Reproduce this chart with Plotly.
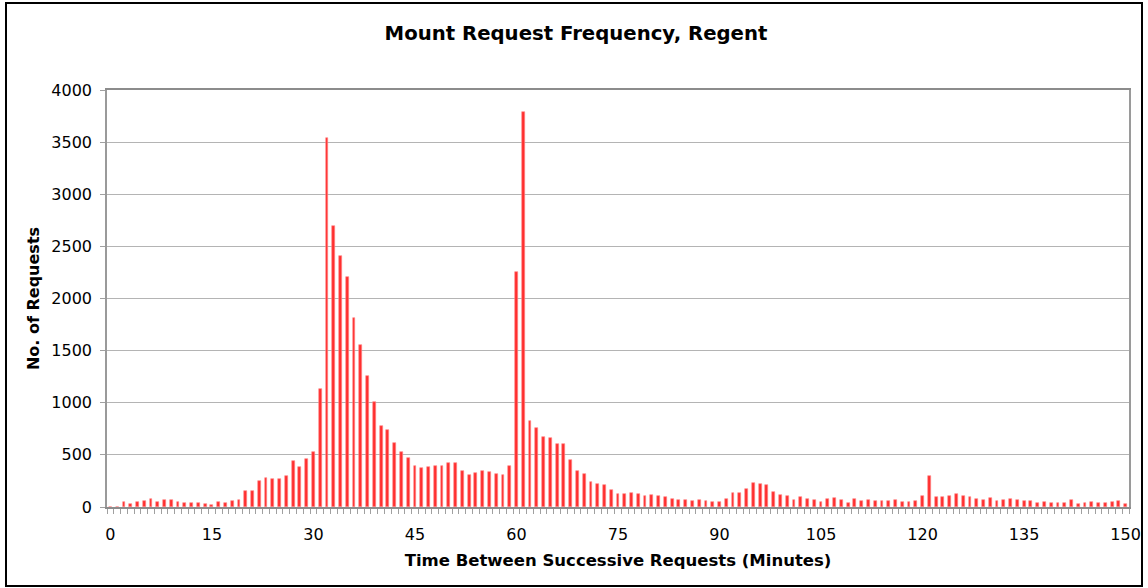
import plotly.graph_objects as go

minutes = list(range(0, 151))
requests = [
    0, 0, 52, 29, 48, 58, 77, 48, 71, 65,          # 0-9
    45, 35, 39, 39, 32, 23, 48, 42, 55, 65,        # 10-19
    152, 155, 252, 281, 271, 268, 297, 442, 381, 463,  # 20-29
    530, 1135, 3536, 2694, 2403, 2211, 1814, 1552, 1258, 1008,  # 30-39
    781, 736, 614, 530, 466, 397, 371, 387, 397, 397,  # 40-49
    426, 423, 342, 310, 329, 345, 339, 313, 303, 394,  # 50-59
    2253, 3786, 821, 758, 676, 658, 602, 609, 455, 342,  # 60-69
    314, 241, 219, 210, 165, 127, 126, 135, 123, 106,  # 70-79
    116, 106, 97, 74, 68, 68, 58, 65, 58, 48,      # 80-89
    48, 77, 135, 135, 174, 235, 219, 213, 148, 116,  # 90-99
    106, 68, 92, 77, 68, 45, 77, 84, 68, 39,       # 100-109
    74, 55, 65, 55, 55, 61, 68, 45, 52, 61,        # 110-119
    103, 294, 94, 97, 106, 123, 110, 94, 74, 68,   # 120-129
    87, 61, 68, 77, 71, 55, 55, 39, 45, 42,        # 130-139
    39, 42, 71, 32, 39, 48, 35, 35, 48, 55,        # 140-149
    32,                                            # 150
]
x_tick_values = list(range(0, 151, 15))
y_tick_values = list(range(0, 4001, 500))

title_text = "Mount Request Frequency, Regent"
x_title = "Time Between Successive Requests (Minutes)"
y_title = "No. of Requests"

FONT = "DejaVu Sans"

fig = go.Figure(
    go.Bar(
        x=minutes,
        y=requests,
        width=0.42,
        marker=dict(color="#ff2f2f", line=dict(color="#ff8a8a", width=0.6)),
    )
)

fig.update_layout(
    width=1148,
    height=588,
    margin=dict(l=107, r=19, t=90, b=81),
    paper_bgcolor="white",
    plot_bgcolor="white",
    showlegend=False,
    font=dict(family=FONT, color="black", size=16),
    title=dict(
        text="<b>" + title_text + "</b>",
        x=576 / 1148,
        xref="container",
        xanchor="center",
        y=1 - 33 / 588,
        yref="container",
        yanchor="middle",
        font=dict(family=FONT, size=19.7, color="black"),
    ),
    bargap=0,
)

fig.update_xaxes(
    range=[-0.5, 150.5],
    tickmode="array",
    tickvals=x_tick_values,
    ticktext=[str(v) for v in x_tick_values],
    ticks="",
    showgrid=False,
    zeroline=False,
    showline=True,
    linecolor="#8c8c8c",
    linewidth=1.5,
    mirror=True,
    automargin=False,
    tickfont=dict(family=FONT, size=16, color="black"),
    ticklabelstandoff=12,
    minor=dict(ticks="outside", tick0=0.5, dtick=1, ticklen=5, tickcolor="#a0a0a0", tickwidth=1, showgrid=False),
    title=dict(text="<b>" + x_title + "</b>", font=dict(family=FONT, size=16.5, color="black"), standoff=11),
)

fig.update_yaxes(
    range=[0, 4000],
    tickmode="array",
    tickvals=y_tick_values,
    ticks="outside",
    ticklen=5,
    tickcolor="#a0a0a0",
    showgrid=True,
    gridcolor="#b4b4b4",
    gridwidth=1,
    zeroline=False,
    showline=True,
    linecolor="#9a9a9a",
    linewidth=1.5,
    mirror=True,
    automargin=False,
    tickfont=dict(family=FONT, size=16, color="black"),
    ticklabelstandoff=5,
    title=dict(text="<b>" + y_title + "</b>", font=dict(family=FONT, size=16, color="black"), standoff=8),
)

fig.add_shape(
    type="rect",
    xref="paper",
    yref="paper",
    x0=(6 - 107) / 1022,
    x1=(1142 - 107) / 1022,
    y0=(507 - 586) / 417,
    y1=(507 - 3) / 417,
    line=dict(color="black", width=2),
    fillcolor="rgba(0,0,0,0)",
    layer="above",
)

fig.write_html(
    "out.html",
    config={"displayModeBar": False},
    post_script="document.body.style.margin='0';document.body.style.overflow='hidden';",
)
